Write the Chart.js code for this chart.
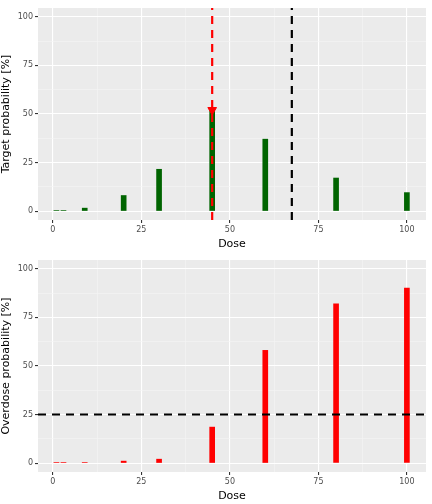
<!DOCTYPE html>
<html><head><meta charset="utf-8">
<script src="https://cdn.jsdelivr.net/npm/chart.js@4.4.0/dist/chart.umd.min.js"></script>
<style>body{margin:0;background:#fff}div{width:432px;height:252px;position:relative}</style>
</head><body>
<div><canvas id="c1"></canvas></div>
<div><canvas id="c2"></canvas></div>
<script>
const doses = [1, 3, 9, 20, 30, 45, 60, 80, 100];
const targetProb = [0.3, 0.3, 1.5, 8, 21.5, 52, 37, 17, 9.5];
const overdoseProb = [0.3, 0.3, 0.3, 1, 2, 18.5, 58, 82, 90];
const nextDose = 45;
const maxDose = 67.5;
const overdoseLimit = 25;
const tickVals = [0, 12.5, 25, 37.5, 50, 62.5, 75, 87.5, 100];

function axis(title, min, max) {
  return {
    type: 'linear', min, max, offset: false,
    afterBuildTicks: s => { s.ticks = tickVals.map(v => ({value: v})); },
    grid: {
      offset: false,
      color: c => (c.tick && c.tick.value % 25 === 0) ? '#FFFFFF' : '#F5F5F5',
      lineWidth: c => (c.tick && c.tick.value % 25 === 0) ? 1.1 : 0.6,
      tickLength: 3, tickColor: c => (c.tick && c.tick.value % 25 === 0) ? '#333' : 'rgba(0,0,0,0)',
      drawOnChartArea: true
    },
    border: {display: false},
    ticks: {
      autoSkip: false, maxRotation: 0, padding: 2, color: '#4D4D4D',
      font: {family: 'DejaVu Sans', size: 8},
      callback: v => (v % 25 === 0 ? String(v) : '')
    },
    title: {display: true, text: title, color: '#000', font: {family: 'DejaVu Sans', size: 11}, padding: {top: 0, bottom: 1}}
  };
}
const bgPlugin = {
  id: 'bg',
  beforeDraw(ch) {
    const a = ch.chartArea, c = ch.ctx;
    c.save(); c.fillStyle = '#EBEBEB'; c.fillRect(a.left, a.top, a.right - a.left, a.bottom - a.top); c.restore();
  }
};
function make(id, values, color, yTitle, extra) {
  const xs = axis('Dose', -4.2, 105.4);
  xs.afterFit = s => { s.height = 32; };
  const ys = axis(yTitle, -4.6, 104.5);
  ys.afterFit = s => { s.width = 38; };
  return new Chart(document.getElementById(id), {
    type: 'bar',
    data: {datasets: [{
      type: 'bar', data: doses.map((d, i) => ({x: d, y: values[i]})),
      backgroundColor: color, barThickness: 5, order: 2
    }].concat(extra)},
    options: {
      responsive: true, maintainAspectRatio: false, animation: false,
      layout: {padding: {top: 8, right: 6, left: 0, bottom: 0}},
      plugins: {legend: {display: false}, tooltip: {enabled: false}},
      scales: {x: xs, y: ys}
    },
    plugins: [bgPlugin]
  });
}
const dashLine = (pts, color) => ({
  type: 'line', data: pts, borderColor: color, borderWidth: 2.2, borderDash: [8, 6],
  pointRadius: 0, fill: false, order: 0, clip: 0
});
make('c1', targetProb, '#006400', 'Target probability [%]', [
  dashLine([{x: nextDose, y: -4.6}, {x: nextDose, y: 104.5}], '#FF0000'),
  dashLine([{x: maxDose, y: -4.6}, {x: maxDose, y: 104.5}], '#000000'),
  {type: 'line', data: [{x: nextDose, y: targetProb[5]}], showLine: false,
   pointStyle: 'triangle', rotation: 180, pointRadius: 5, backgroundColor: '#FF0000', borderColor: '#FF0000', order: 0}
]);
make('c2', overdoseProb, '#FF0000', 'Overdose probability [%]', [
  dashLine([{x: -4.2, y: overdoseLimit}, {x: 105.4, y: overdoseLimit}], '#000000')
]);
</script>
</body></html>
